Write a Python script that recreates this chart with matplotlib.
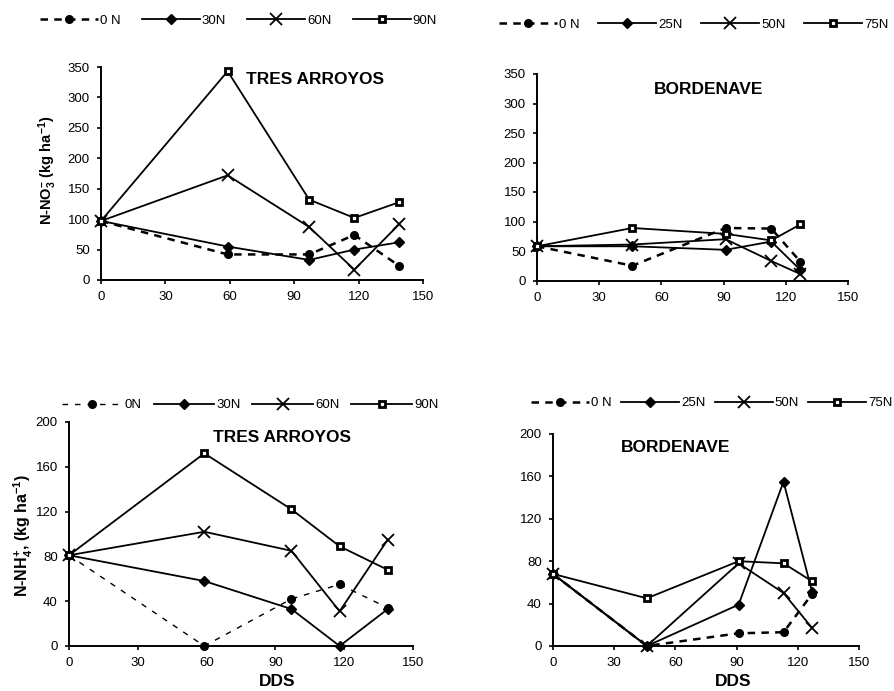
import matplotlib
matplotlib.use("Agg")
import matplotlib.pyplot as plt
from matplotlib.lines import Line2D

plt.rcParams["font.family"] = ["Liberation Sans", "DejaVu Sans"]
plt.rcParams["mathtext.fontset"] = "custom"
plt.rcParams["mathtext.bf"] = "Liberation Sans:bold"
plt.rcParams["mathtext.rm"] = "Liberation Sans:bold"
plt.rcParams["mathtext.default"] = "bf"

W, H = 895, 691

# ---- data ----
dds_ta = [0, 59, 97, 118, 139]
dds_bo = [0, 46, 91, 113, 127]

no3_ta_0 = [97, 42, 42, 74, 23]
no3_ta_30 = [97, 55, 33, 50, 62]
no3_ta_60 = [97, 172, 87, 17, 92]
no3_ta_90 = [97, 343, 132, 102, 128]

no3_bo_0 = [58, 25, 89, 88, 32]
no3_bo_25 = [58, 58, 52, 66, 18]
no3_bo_50 = [58, 61, 70, 33, 11]
no3_bo_75 = [58, 89, 79, 68, 95]

nh4_ta_0 = [81, 0, 42, 55, 34]
nh4_ta_30 = [81, 58, 33, 0, 33]
nh4_ta_60 = [81, 102, 85, 31, 95]
nh4_ta_90 = [81, 172, 122, 89, 68]

nh4_bo_0 = [68, 0, 12, 13, 49]
nh4_bo_25 = [68, 0, 39, 155, 51]
nh4_bo_50 = [68, 0, 78, 50, 17]
nh4_bo_75 = [68, 45, 80, 78, 61]

labels_ta_top = ["0 N", "30N", "60N", "90N"]
labels_bo = ["0 N", "25N", "50N", "75N"]
labels_ta_bot = ["0N", "30N", "60N", "90N"]


def px_rect(left, top, right, bottom):
    return [left / W, 1 - bottom / H, (right - left) / W, (bottom - top) / H]


def styles(dash):
    return [
        dict(color="black", linestyle=dash[0], lw=dash[1], marker="o", ms=5.5,
             mfc="black", mec="black"),
        dict(color="black", linestyle="-", lw=1.3, marker="D", ms=5,
             mfc="black", mec="black"),
        dict(color="black", linestyle="-", lw=1.3, marker="x", ms=8, mew=1.3),
        dict(color="black", linestyle="-", lw=1.3, marker="s", ms=5,
             mfc="white", mec="black", mew=2.0),
    ]


def panel(fig, rect, x, series, yticks, title, title_xy, dash, tick_fs):
    ax = fig.add_axes(px_rect(*rect))
    for y, st in zip(series, styles(dash)):
        ax.plot(x, y, clip_on=False, zorder=3, **st)
    ax.set_xlim(0, 150)
    ax.set_ylim(0, yticks[-1])
    ax.set_xticks(range(0, 151, 30))
    ax.set_yticks(yticks)
    for s in ("top", "right"):
        ax.spines[s].set_visible(False)
    for s in ("left", "bottom"):
        ax.spines[s].set_linewidth(1.4)
    ax.tick_params(direction="out", length=3, width=1.2, labelsize=tick_fs, pad=5)
    fig.text(title_xy[0] / W, 1 - title_xy[1] / H, title, fontsize=12.5,
             fontweight="bold", ha="center", va="center")
    return ax


def legend(fig, labels, dash, x_px, y_px, hl, cs, fs=9.5):
    hs = [Line2D([], [], **st) for st in styles(dash)]
    fig.legend(hs, labels, loc="center left",
               bbox_to_anchor=(x_px / W, 1 - y_px / H), ncol=4, frameon=False,
               fontsize=fs, handlelength=hl, handletextpad=0.15,
               columnspacing=cs, borderpad=0, borderaxespad=0)


fig = plt.figure(figsize=(W / 100, H / 100), dpi=100)

dash_top = ((0, (3, 2.5)), 1.8)
dash_bot = ((0, (4, 5)), 1.0)

panel(fig, (101, 67, 423, 280), dds_ta,
      [no3_ta_0, no3_ta_30, no3_ta_60, no3_ta_90], range(0, 351, 50),
      "TRES ARROYOS", (315, 79), dash_top, 9.5)
panel(fig, (537, 74, 848, 280.5), dds_bo,
      [no3_bo_0, no3_bo_25, no3_bo_50, no3_bo_75], range(0, 351, 50),
      "BORDENAVE", (709, 89), dash_top, 9.5)
panel(fig, (69, 422, 413, 646), dds_ta,
      [nh4_ta_0, nh4_ta_30, nh4_ta_60, nh4_ta_90], range(0, 201, 40),
      "TRES ARROYOS", (282, 437), dash_bot, 9.5)
panel(fig, (553, 434, 859, 646), dds_bo,
      [nh4_bo_0, nh4_bo_25, nh4_bo_50, nh4_bo_75], range(0, 201, 40),
      "BORDENAVE", (676, 448), dash_top, 9.5)

legend(fig, labels_ta_top, dash_top, 40, 21, 4.4, 1.6)
legend(fig, labels_bo, dash_top, 499, 25, 4.4, 1.4)
legend(fig, labels_ta_bot, dash_bot, 62, 405, 4.6, 0.9)
legend(fig, labels_bo, dash_top, 531, 403, 4.4, 0.7)

fig.text(48 / W, 1 - 170 / H, r"N-NO$_3^{-}$ (kg ha$^{-1}$)", rotation=90,
         fontsize=10.5, fontweight="bold", ha="center", va="center")
fig.text(23 / W, 1 - 535 / H, r"N-NH$_4^{+}$, (kg ha$^{-1}$)", rotation=90,
         fontsize=11.5, fontweight="bold", ha="center", va="center")
fig.text(277 / W, 1 - 681 / H, "DDS", fontsize=12.5, fontweight="bold",
         ha="center", va="center")
fig.text(733 / W, 1 - 682 / H, "DDS", fontsize=12.5, fontweight="bold",
         ha="center", va="center")

fig.savefig("out.png", dpi=100, facecolor="white")
